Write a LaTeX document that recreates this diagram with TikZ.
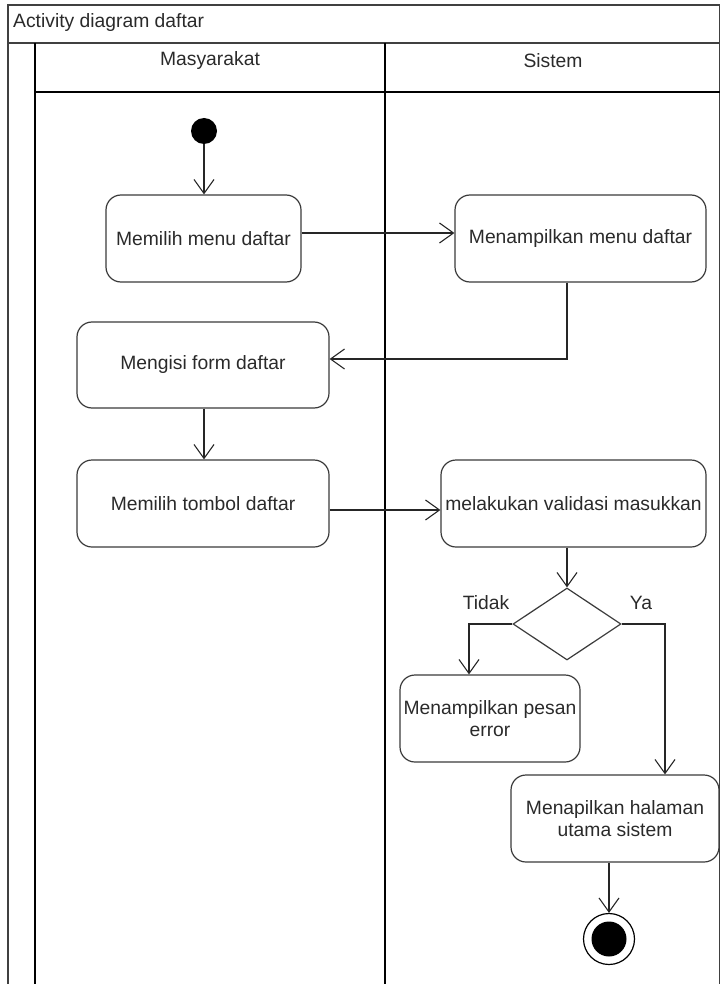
\documentclass[tikz,border=0pt]{standalone}
\usepackage{fontspec}
\setmainfont{Liberation Sans}
\usetikzlibrary{arrows.meta,shapes.geometric,positioning}
\definecolor{boxline}{HTML}{3A3A3A}
\definecolor{txt}{HTML}{2A2A2A}
\begin{document}
\begin{tikzpicture}[x=1pt,y=-1pt,
  font=\fontsize{19.3}{22}\selectfont,
  act/.style={draw=boxline, line width=1.2pt, rounded corners=15pt, align=center, text=txt, inner sep=0pt},
  arr/.style={draw=black!85, line width=1.1pt, -{Straight Barb[length=14pt,width=20pt,line width=1.1pt]}},
  lane/.style={line width=2.8pt, black},
  frame/.style={line width=1.1pt, black!75},
  lbl/.style={text=txt, inner sep=0pt}
]
\useasboundingbox (0,0) rectangle (721,984);
% frame
\draw[frame] (8,990) -- (8,5) -- (719.5,5) -- (719.5,990);
\draw[frame] (8,43) -- (719.5,43);
\node[lbl, anchor=west] (title) at (13,23) {Activity diagram daftar};
% lanes
\draw[lane] (35,43) -- (35,990);
\draw[lane] (385,43) -- (385,990);
\draw[lane] (35,92) -- (719.5,92);
\node[lbl] (lm) at (210,61) {Masyarakat};
\node[lbl] (ls) at (553,61) {Sistem};
% nodes
\node[circle, fill=black, minimum size=26pt, inner sep=0pt] (start) at (204,131) {};
\node[act, minimum width=195pt, minimum height=87pt] (a1) at (203.5,238.5) {Memilih menu daftar};
\node[act, minimum width=251pt, minimum height=87pt] (a2) at (580.5,238.5) {Menampilkan menu daftar};
\node[act, minimum width=252pt, minimum height=86pt] (a3) at (203,365) {Mengisi form daftar};
\node[act, minimum width=252pt, minimum height=87pt] (a4) at (203,503.5) {Memilih tombol daftar};
\node[act, minimum width=265pt, minimum height=87pt] (a5) at (573.5,503.5) {melakukan validasi masukkan};
\node[diamond, draw=boxline, line width=1.2pt, minimum width=108pt, minimum height=72pt, inner sep=0pt] (d) at (567,624) {};
\node[act, minimum width=180pt, minimum height=87pt] (a6) at (490,718.5) {Menampilkan pesan\\error};
\node[act, minimum width=208pt, minimum height=87pt] (a7) at (615,818.5) {Menapilkan halaman\\utama sistem};
\node[circle, draw=black, line width=1.2pt, minimum size=51pt, inner sep=0pt] (end) at (609,939) {};
\node[circle, fill=black, minimum size=35pt, inner sep=0pt] (endin) at (end) {};
% labels
\node[lbl] (tidak) at (486,603) {Tidak};
\node[lbl] (ya) at (641,603) {Ya};
% connectors
\draw[arr] (start) -- (a1.north -| start);
\draw[arr] ([yshift=5.5pt]a1.east) -- ([yshift=5.5pt]a2.west);
\draw[arr] ([xshift=-13.5pt]a2.south) |- ([yshift=6pt]a3.east);
\draw[arr] ([xshift=1pt]a3.south) -- ([xshift=1pt]a4.north);
\draw[arr] ([yshift=-6.5pt]a4.east) -- ([yshift=-6.5pt]a5.west);
\draw[arr] ([xshift=-6.5pt]a5.south) -- (d.north);
\draw[arr] (d.west) -| ([xshift=-21pt]a6.north);
\draw[arr] (d.east) -| ([xshift=50pt]a7.north);
\draw[arr] ([xshift=-6pt]a7.south) -- (end.north);
\end{tikzpicture}
\end{document}
